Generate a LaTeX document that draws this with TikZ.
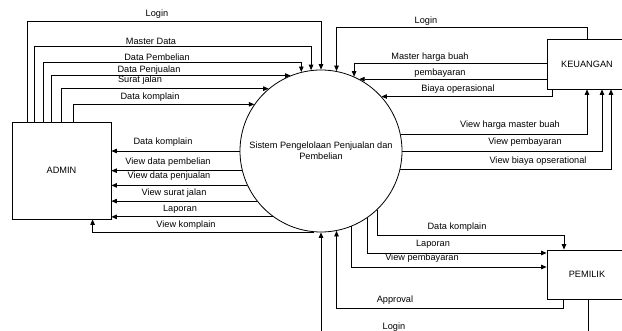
\documentclass[tikz,border=0pt]{standalone}
\usepackage{fontspec}
\setmainfont{Liberation Sans}
\usetikzlibrary{arrows.meta,calc}
\begin{document}
\begin{tikzpicture}[x=1pt,y=-1pt,
  every node/.style={font=\fontsize{9.2}{11}\selectfont},
  entity/.style={draw, line width=0.8pt, inner sep=0pt},
  proc/.style={draw, circle, line width=0.8pt, inner sep=0pt, minimum size=162pt, align=center},
  flow/.style={draw, line width=0.8pt, -{Triangle[length=5.5pt,width=4.5pt]}},
  lbl/.style={inner sep=0pt}]
\useasboundingbox (0,0) rectangle (622,331);
\clip (0,0) rectangle (622,331);
\fill[white] (0,0) rectangle (622,331);

% nodes
\node[entity, minimum width=99pt, minimum height=97pt] (admin) at (61.5,170.5) {ADMIN};
\node[proc] (sys) at (321,151) {Sistem Pengelolaan Penjualan dan\\Pembelian};
\node[entity, minimum width=80pt, minimum height=50pt] (keu) at (587,64) {KEUANGAN};
\node[entity, minimum width=80pt, minimum height=49pt] (pem) at (587,274.5) {PEMILIK};

% ADMIN -> system
\draw[flow] ([xshift=16pt]admin.north west) -- ++(0,-100) -| (sys.90.7);
\draw[flow] ([xshift=23pt]admin.north west) -- ++(0,-75) -| (sys.97.1);
\draw[flow] ([xshift=32pt]admin.north west) -- ++(0,-59) -| (sys.104.3);
\draw[flow] ([xshift=40pt]admin.north west) |- (sys.112.2);
\draw[flow] ([xshift=50pt]admin.north west) |- (sys.130);
\draw[flow] ([xshift=61.5pt]admin.north west) |- (sys.145.4);
\node[lbl] (t1) at (157,14) {Login};
\node[lbl] (t2) at (151,41) {Master Data};
\node[lbl] (t3) at (157,57) {Data Pembelian};
\node[lbl] (t4) at (149,70) {Data Penjualan};
\node[lbl] (t5) at (140,80) {Surat jalan};
\node[lbl] (t6) at (150,97) {Data komplain};

% system -> ADMIN
\draw[flow] (sys.180.7) -- (admin.east |- sys.180.7);
\draw[flow] (sys.194.3) -- (admin.east |- sys.194.3);
\draw[flow] (sys.205.6) -- (admin.east |- sys.205.6);
\draw[flow] (sys.218.1) -- (admin.east |- sys.218.1);
\draw[flow] (sys.234.6) -- (admin.east |- sys.234.6);
\draw[flow] (sys.265.75) -| ([xshift=81pt]admin.south west);
\node[lbl] (b1) at (163,142) {Data komplain};
\node[lbl] (b2) at (168,162) {View data pembelian};
\node[lbl] (b3) at (169,176) {View data penjualan};
\node[lbl] (b4) at (174,193) {View surat jalan};
\node[lbl] (b5) at (180,209) {Laporan};
\node[lbl] (b6) at (186,225) {View komplain};

% KEUANGAN -> system
\draw[flow] (keu.north) -- ++(0,-11) -| (sys.79.3);
\draw[flow] ([yshift=1pt]keu.west) -| (sys.66.7);
\draw[flow] (keu.west |- sys.62.7) -- (sys.62.7);
\draw[flow] ([xshift=6pt]keu.south west) |- (sys.42.75);
\node[lbl] (k1) at (426,21) {Login};
\node[lbl] (k2) at (430,57) {Master harga buah};
\node[lbl] (k3) at (440,73) {pembayaran};
\node[lbl] (k4) at (458,89) {Biaya operasional};

% system -> KEUANGAN
\draw[flow] (sys.12.8) -| (keu.south);
\draw[flow] (sys.0) -| ([xshift=15pt]keu.south);
\draw[flow] (sys.347.9) -| ([xshift=24pt]keu.south);
\node[lbl] (k5) at (510,125) {View harga master buah};
\node[lbl] (k6) at (525,142) {View pembayaran};
\node[lbl] (k7) at (538,161) {View biaya opserational};

% system -> PEMILIK
\draw[flow] (sys.314.7) |- ([xshift=-23pt,yshift=14pt]pem.north) -- ([xshift=-23pt]pem.north);
\draw[flow] (sys.305.5) |- ([yshift=21.5pt]pem.west);
\draw[flow] (sys.292.5) |- ([yshift=7.5pt]pem.west);
\node[lbl] (p1) at (457,227) {Data komplain};
\node[lbl] (p2) at (433,244) {Laporan};
\node[lbl] (p3) at (422,258) {View pembayaran};

% PEMILIK -> system
\draw[flow] ([xshift=-24pt]pem.south) -- ++(0,9) -| (sys.281.4);
\draw[flow] ([xshift=1pt]pem.south) -- ++(0,50) -| (sys.270);
\node[lbl] (p4) at (395,300) {Approval};
\node[lbl] (p5) at (394,327) {Login};
\end{tikzpicture}
\end{document}
